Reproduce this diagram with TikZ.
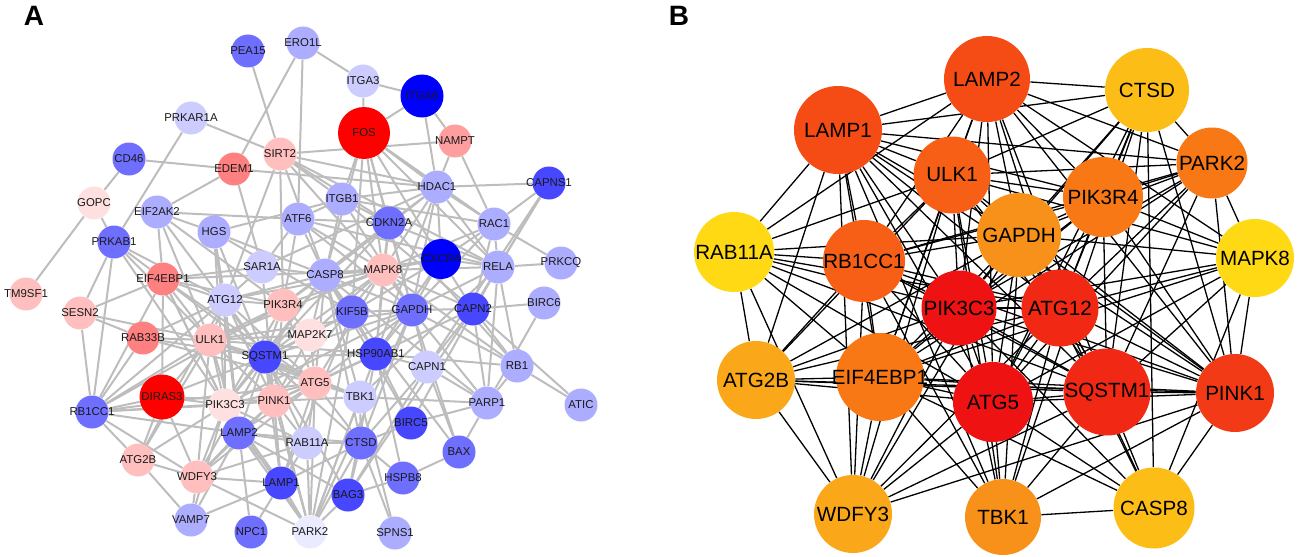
\documentclass[tikz,border=0pt]{standalone}
\usepackage{fontspec}
\setmainfont{Liberation Sans}
\usetikzlibrary{backgrounds}

%Colours of panel A
\colorlet{bl1}{blue}
\colorlet{bl2}{blue!72!white}
\colorlet{bl3}{blue!57!white}
\colorlet{bl4}{blue!32!white}
\colorlet{bl5}{blue!20!white}
\colorlet{bl6}{blue!8!white}
\colorlet{rd1}{red}
\colorlet{rd2}{red!50!white}
\colorlet{rd3}{red!38!white}
\colorlet{rd4}{red!25!white}
\colorlet{rd5}{red!12!white}
%Colours of panel B
\definecolor{ht1}{RGB}{238,18,18}
\definecolor{ht2}{RGB}{240,40,20}
\definecolor{ht3}{RGB}{242,58,22}
\definecolor{ht4}{RGB}{245,75,20}
\definecolor{ht5}{RGB}{248,95,22}
\definecolor{ht6}{RGB}{248,120,22}
\definecolor{ht7}{RGB}{248,145,25}
\definecolor{ht8}{RGB}{250,168,25}
\definecolor{ht9}{RGB}{252,190,22}
\definecolor{ht10}{RGB}{255,218,20}

\begin{document}
\begin{tikzpicture}[x=0.5pt, y={(0pt,-0.5pt)},
	anode/.style={circle, inner sep=0pt, minimum size=16.5pt, font=\fontsize{5.7}{6}\selectfont, text=black!90},
	bnode/.style={circle, inner sep=0pt, font=\fontsize{10.3}{12}\selectfont},
	aedge/.style={draw=black!26, line width=1pt},
	bedge/.style={draw=black, line width=0.65pt},
	panel/.style={font=\fontsize{14}{16}\selectfont\bfseries}]
	\useasboundingbox (0,0) rectangle (1299,556);

	%Panel labels
	\node[panel] (labA) at (34,16) {A};
	\node[panel] (labB) at (679,16) {B};

	%Panel A nodes
	\foreach \n/\x/\y/\c in {PEA15/248/51/bl3, ERO1L/303/43/bl4, ITGA3/363/81/bl5,
		NAMPT/455/141/rd3, PRKAR1A/191/118/bl5, CD46/129/159/bl3, SIRT2/280/154/rd4,
		EDEM1/234/169/rd2, GOPC/94/203/rd5, EIF2AK2/157/212/bl4, HGS/214/232/bl4,
		ATF6/298/219/bl4, PRKAB1/114/242/bl3, SAR1A/262/267/bl5, HDAC1/437/187/bl4,
		CAPNS1/549/183/bl2, ITGB1/342/199/bl4, CDKN2A/389/223/bl3, RAC1/494/224/bl4,
		RELA/498/267/bl4, PRKCQ/561/263/bl4, CASP8/325/275/bl4, MAPK8/383/270/rd4,
		TM9SF1/26/294/rd4, EIF4EBP1/163/279/rd2, ATG12/225/300/bl5, PIK3R4/283/305/rd4,
		SESN2/80/313/rd4, RAB33B/143/338/rd2, ULK1/210/340/rd4, SQSTM1/265/357/bl2,
		MAP2K7/310/335/rd5, RB1CC1/92/412/bl3, PIK3C3/225/405/rd5, PINK1/274/401/rd4,
		ATG5/315/383/rd4, LAMP2/239/433/bl3, RAB11A/307/443/bl5, ATG2B/138/460/rd4,
		WDFY3/197/477/rd4, LAMP1/281/483/bl2, VAMP7/191/520/bl4, NPC1/251/532/bl3,
		PARK2/310/532/bl6, KIF5B/352/312/bl3, GAPDH/412/310/bl3, CAPN2/473/309/bl2,
		BIRC6/544/303/bl4, HSP90AB1/376/354/bl2, CAPN1/427/367/bl5, RB1/517/366/bl4,
		TBK1/360/397/bl5, PARP1/487/403/bl4, ATIC/581/405/bl4, BIRC5/411/423/bl2,
		CTSD/361/443/bl3, BAX/459/452/bl3, HSPB8/403/478/bl3, BAG3/348/495/bl2,
		SPNS1/395/533/bl4}
		\node[anode, fill=\c] (a\n) at (\x,\y) {\makebox[0pt]{\n}};
	\node[anode, fill=rd1, minimum size=26pt] (aFOS) at (364,133) {FOS};
	\node[anode, fill=rd1, minimum size=22.5pt] (aDIRAS3) at (162,397) {\makebox[0pt]{DIRAS3}};
	\node[anode, fill=bl1, minimum size=21.5pt] (aITGA6) at (422,96) {\makebox[0pt]{ITGA6}};
	\node[anode, fill=bl1, minimum size=20pt] (aCXCR4) at (441,259) {\makebox[0pt]{CXCR4}};

	%Panel B nodes
	\foreach \n/\x/\y/\c/\d in {LAMP1/838/130/ht4/44, LAMP2/987/79/ht4/43, CTSD/1147/90/ht9/42,
		ULK1/952/175/ht5/38.5, PARK2/1212/163/ht6/35.5, PIK3R4/1103/197/ht6/40,
		GAPDH/1019/235/ht7/42, MAPK8/1255/258/ht10/39, RAB11A/734/252/ht10/40,
		RB1CC1/864/261/ht5/41, PIK3C3/959/308/ht1/37.5, ATG12/1060/308/ht2/38.5,
		ATG2B/756/380/ht8/39, EIF4EBP1/880/377/ht6/44, ATG5/993/402/ht1/40,
		SQSTM1/1107/392/ht2/43.5, PINK1/1235/393/ht3/39, WDFY3/853/514/ht8/39,
		TBK1/1003/517/ht7/38, CASP8/1154/508/ht9/40.5}
		\node[bnode, fill=\c, minimum size=\d pt] (b\n) at (\x,\y) {\makebox[0pt]{\n}};

	\begin{pgfonlayer}{background}
	%Panel A edges
	\foreach \s/\t in {PEA15/SIRT2, ERO1L/EDEM1, ERO1L/ITGA3, ERO1L/ATF6, ITGA3/FOS, ITGA3/ITGA6,
		ITGA6/NAMPT, ITGA6/FOS, ITGA6/HDAC1, NAMPT/SIRT2, NAMPT/HDAC1, NAMPT/RAC1,
		PRKAR1A/SIRT2, PRKAR1A/PRKAB1, CD46/EDEM1, CD46/GOPC, GOPC/TM9SF1, GOPC/PRKAB1,
		EDEM1/EIF2AK2, EDEM1/SAR1A, EDEM1/HDAC1, SIRT2/ITGB1, SIRT2/CDKN2A, SIRT2/HDAC1,
		SIRT2/MAPK8, SIRT2/CASP8, SIRT2/ATG12, SIRT2/PIK3R4, SIRT2/RELA,
		EIF2AK2/ATF6, EIF2AK2/EIF4EBP1, EIF2AK2/HGS, EIF2AK2/ULK1, EIF2AK2/SQSTM1, EIF2AK2/PIK3R4,
		HGS/SQSTM1, HGS/CASP8, HGS/ATG12, HGS/ITGB1, HGS/PIK3C3, HGS/LAMP2, HGS/KIF5B,
		ATF6/CASP8, ATF6/MAPK8, ATF6/ITGB1, ATF6/SAR1A, ATF6/CDKN2A, ATF6/RELA, ATF6/GAPDH, ATF6/PIK3R4,
		PRKAB1/EIF4EBP1, PRKAB1/RB1CC1, PRKAB1/ULK1, PRKAB1/SESN2, PRKAB1/ATG12, PRKAB1/PIK3C3,
		SAR1A/EIF4EBP1, SAR1A/CASP8, SAR1A/ATG12, SAR1A/HDAC1, SAR1A/LAMP1,
		FOS/MAPK8, FOS/CDKN2A, FOS/HDAC1, FOS/RELA, FOS/ITGB1, FOS/CASP8, FOS/GAPDH, FOS/CXCR4,
		FOS/RAC1, FOS/KIF5B, ITGB1/CDKN2A, ITGB1/HDAC1, ITGB1/CASP8, ITGB1/RAC1, ITGB1/CAPN2,
		ITGB1/GAPDH, HDAC1/CAPNS1, HDAC1/CDKN2A, HDAC1/RELA, HDAC1/CXCR4, HDAC1/MAPK8,
		HDAC1/GAPDH, HDAC1/RAC1, HDAC1/CASP8, HDAC1/HSP90AB1, CDKN2A/MAPK8, CDKN2A/GAPDH,
		CDKN2A/CASP8, CDKN2A/RELA, CDKN2A/HSP90AB1, CDKN2A/PIK3R4, CDKN2A/SQSTM1, CDKN2A/RB1,
		CAPNS1/RAC1, CAPNS1/RELA, CAPNS1/CAPN2, CAPNS1/CAPN1, RAC1/PRKCQ, RAC1/CXCR4, RAC1/RELA,
		RAC1/GAPDH, RAC1/MAPK8, RAC1/CAPN2, RELA/PRKCQ, RELA/CXCR4, RELA/MAPK8, RELA/GAPDH,
		RELA/CAPN2, RELA/PARP1, RELA/BIRC5, RELA/RB1, CXCR4/MAPK8, CXCR4/GAPDH, CXCR4/CAPN2,
		CXCR4/CASP8, CXCR4/HSP90AB1, CXCR4/KIF5B, BIRC6/CAPN2, BIRC6/PARP1, ATIC/RB1, ATIC/CAPN2,
		RB1/PARP1, RB1/GAPDH, RB1/CAPN2, RB1/MAPK8, RB1/HSP90AB1, PARP1/CAPN1, PARP1/BAX,
		PARP1/CASP8, PARP1/GAPDH, PARP1/TBK1, PARP1/CAPN2, PARP1/BIRC5, BAX/HSPB8, BAX/CASP8,
		BAX/CAPN1, BAX/GAPDH, CAPN1/CAPN2, CAPN1/GAPDH, CAPN1/CTSD, CAPN1/HSP90AB1, CAPN1/BAG3,
		BIRC5/CASP8, BIRC5/HSP90AB1, BIRC5/CTSD, HSPB8/BAG3, HSPB8/CTSD, HSPB8/HSP90AB1,
		BAG3/PARK2, BAG3/CTSD, BAG3/HSP90AB1, BAG3/SQSTM1, BAG3/LAMP2, BAG3/CAPN2,
		SPNS1/CTSD, SPNS1/TBK1, CTSD/LAMP1, CTSD/LAMP2, CTSD/TBK1, CTSD/CASP8, CTSD/GAPDH,
		CTSD/PARK2, CTSD/RAB11A, CTSD/ATG5, CTSD/SQSTM1, TBK1/SQSTM1, TBK1/ATG5, TBK1/PINK1,
		TBK1/RELA, TBK1/PARK2, TBK1/ULK1, TBK1/CASP8, HSP90AB1/GAPDH, HSP90AB1/KIF5B,
		HSP90AB1/MAPK8, HSP90AB1/CASP8, HSP90AB1/ULK1, HSP90AB1/PINK1, HSP90AB1/PARK2,
		HSP90AB1/SQSTM1, KIF5B/GAPDH, KIF5B/CASP8, KIF5B/SQSTM1, KIF5B/MAP2K7, KIF5B/LAMP1,
		KIF5B/PARK2, GAPDH/CASP8, GAPDH/MAPK8, GAPDH/CAPN2, GAPDH/SQSTM1, GAPDH/ATG5,
		GAPDH/PARK2, GAPDH/ULK1, GAPDH/PIK3C3, CAPN2/MAPK8, CAPN2/ATG5, MAPK8/CASP8,
		MAPK8/PIK3R4, MAPK8/ATG5, MAPK8/MAP2K7, MAPK8/SQSTM1, MAPK8/ULK1, MAPK8/ATG12,
		MAPK8/PINK1, CASP8/PIK3R4, CASP8/SQSTM1, CASP8/ATG5, CASP8/ATG12, CASP8/MAP2K7,
		CASP8/PIK3C3, PIK3R4/ATG12, PIK3R4/ULK1, PIK3R4/PIK3C3, PIK3R4/SQSTM1, PIK3R4/ATG5,
		PIK3R4/MAP2K7, PIK3R4/RB1CC1, PIK3R4/EIF4EBP1, PIK3R4/PINK1, ATG12/ULK1,
		ATG12/EIF4EBP1, ATG12/ATG5, ATG12/PIK3C3, ATG12/SQSTM1, ATG12/RB1CC1, ATG12/LAMP2,
		ATG12/RAB33B, ATG12/ATG2B, ATG12/PINK1, EIF4EBP1/ULK1, EIF4EBP1/SESN2,
		EIF4EBP1/RB1CC1, EIF4EBP1/SQSTM1, EIF4EBP1/PIK3C3, EIF4EBP1/ATG5, EIF4EBP1/DIRAS3,
		EIF4EBP1/LAMP2, EIF4EBP1/MAPK8, SESN2/RB1CC1, SESN2/RAB33B, SESN2/ULK1,
		RAB33B/ULK1, RAB33B/RB1CC1, RAB33B/ATG5, RAB33B/SQSTM1, ULK1/SQSTM1, ULK1/ATG5,
		ULK1/PIK3C3, ULK1/DIRAS3, ULK1/RB1CC1, ULK1/PINK1, ULK1/LAMP2, ULK1/WDFY3,
		ULK1/MAP2K7, ULK1/ATG2B, SQSTM1/ATG5, SQSTM1/PINK1, SQSTM1/PIK3C3, SQSTM1/LAMP2,
		SQSTM1/MAP2K7, SQSTM1/LAMP1, SQSTM1/PARK2, SQSTM1/WDFY3, SQSTM1/RAB11A,
		SQSTM1/DIRAS3, MAP2K7/ATG5, MAP2K7/PINK1, ATG5/PINK1, ATG5/PIK3C3, ATG5/LAMP2,
		ATG5/RAB11A, ATG5/LAMP1, ATG5/PARK2, ATG5/WDFY3, ATG5/RB1CC1, DIRAS3/PIK3C3,
		DIRAS3/RB1CC1, DIRAS3/PINK1, DIRAS3/ATG2B, DIRAS3/WDFY3, RB1CC1/PIK3C3,
		RB1CC1/ATG2B, RB1CC1/WDFY3, RB1CC1/LAMP2, RB1CC1/PINK1, PIK3C3/PINK1, PIK3C3/LAMP2,
		PIK3C3/WDFY3, PIK3C3/LAMP1, PIK3C3/RAB11A, PIK3C3/ATG2B, PIK3C3/PARK2, PIK3C3/VAMP7,
		PINK1/LAMP2, PINK1/PARK2, PINK1/RAB11A, PINK1/LAMP1, PINK1/WDFY3, LAMP2/LAMP1,
		LAMP2/NPC1, LAMP2/VAMP7, LAMP2/WDFY3, LAMP2/RAB11A, LAMP2/PARK2, RAB11A/LAMP1,
		RAB11A/PARK2, RAB11A/WDFY3, ATG2B/WDFY3, ATG2B/VAMP7, WDFY3/VAMP7, WDFY3/LAMP1,
		WDFY3/PARK2, LAMP1/NPC1, LAMP1/PARK2, LAMP1/VAMP7}
		\draw[aedge] (a\s) -- (a\t);

	%Panel B edges
	\foreach \s [count=\i] in {LAMP1,LAMP2,ULK1,PARK2,PIK3R4,GAPDH,RB1CC1,PIK3C3,ATG12,EIF4EBP1,ATG5,SQSTM1,PINK1}
		\foreach \t [count=\j] in {LAMP1,LAMP2,ULK1,PARK2,PIK3R4,GAPDH,RB1CC1,PIK3C3,ATG12,EIF4EBP1,ATG5,SQSTM1,PINK1}
			{\ifnum\j>\i \draw[bedge] (b\s) -- (b\t); \fi}
	\foreach \s/\tl in {RAB11A/{LAMP1,LAMP2,ULK1,GAPDH,RB1CC1,PIK3C3,ATG12,ATG2B,EIF4EBP1,ATG5,SQSTM1,WDFY3},
		MAPK8/{LAMP2,ULK1,GAPDH,PIK3R4,PARK2,PIK3C3,ATG12,ATG5,SQSTM1,PINK1,EIF4EBP1,CASP8},
		CTSD/{LAMP2,LAMP1,ULK1,PARK2,PIK3R4,GAPDH,ATG12,PIK3C3,SQSTM1,ATG5,CASP8,PINK1,TBK1},
		CASP8/{SQSTM1,ATG5,PINK1,TBK1,ATG12,PIK3C3,EIF4EBP1,GAPDH},
		TBK1/{SQSTM1,ATG5,PINK1,EIF4EBP1,PIK3C3,ATG12,ULK1,LAMP1,RB1CC1,GAPDH},
		WDFY3/{ATG2B,EIF4EBP1,RB1CC1,ATG5,SQSTM1,PIK3C3,ATG12,ULK1,LAMP1,PINK1,GAPDH},
		ATG2B/{LAMP1,RB1CC1,ULK1,EIF4EBP1,PIK3C3,ATG5,SQSTM1,ATG12,PINK1,GAPDH}}
		\foreach \t in \tl
			\draw[bedge] (b\s) -- (b\t);
	\end{pgfonlayer}
\end{tikzpicture}
\end{document}
